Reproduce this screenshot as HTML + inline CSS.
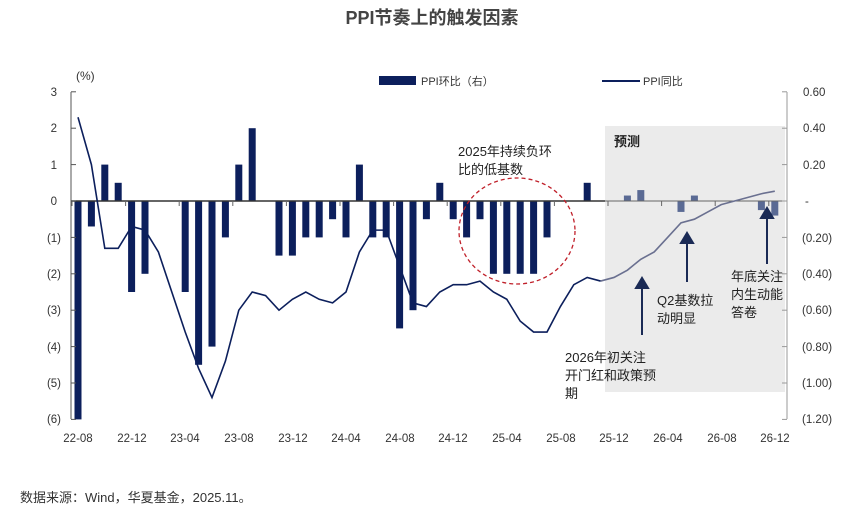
<!DOCTYPE html>
<html><head><meta charset="utf-8"><style>
html,body{margin:0;padding:0;background:#fff;}
svg{display:block;font-family:"Liberation Sans","Noto Sans CJK SC",sans-serif;}
</style></head><body>
<svg id="s" width="865" height="519" viewBox="0 0 865 519" xmlns="http://www.w3.org/2000/svg">
<rect x="605" y="126" width="180" height="266" fill="#ebebeb"/>
<text x="432" y="24" text-anchor="middle" font-size="18" font-weight="bold" fill="#444" font-family="Liberation Sans,'Noto Sans CJK SC',sans-serif">PPI节奏上的触发因素</text>
<rect x="379" y="76" width="37" height="9" fill="#0c1f5c"/>
<text x="421" y="85" font-size="11" fill="#333">PPI环比（右）</text>
<line x1="602" y1="81" x2="640" y2="81" stroke="#0c1f5c" stroke-width="2"/>
<text x="643" y="85" font-size="11" fill="#333">PPI同比</text>
<text x="76" y="80" font-size="12" fill="#333">(%)</text>
<g id="axes" stroke="#555" stroke-width="1" fill="none">
<line x1="71" y1="92" x2="71" y2="419"/>
<line x1="787" y1="92" x2="787" y2="419" stroke="#999"/>
</g>
<g id="g"></g>
<g font-size="11.5" fill="#333" text-anchor="end">
<text x="57" y="96">3</text><text x="57" y="132">2</text><text x="57" y="169">1</text><text x="57" y="205">0</text>
<text x="61" y="242">(1)</text><text x="61" y="278">(2)</text><text x="61" y="314">(3)</text><text x="61" y="351">(4)</text><text x="61" y="387">(5)</text><text x="61" y="423">(6)</text>
</g>
<g font-size="11.5" fill="#333" text-anchor="start">
<text x="803" y="96">0.60</text><text x="803" y="132">0.40</text><text x="803" y="169">0.20</text><text x="805" y="205">-</text>
<text x="802" y="242">(0.20)</text><text x="802" y="278">(0.40)</text><text x="802" y="314">(0.60)</text><text x="802" y="351">(0.80)</text><text x="802" y="387">(1.00)</text><text x="802" y="423">(1.20)</text>
</g>
<g font-size="11.5" fill="#333" text-anchor="middle">
<text x="78" y="442">22-08</text><text x="132" y="442">22-12</text><text x="185" y="442">23-04</text><text x="239" y="442">23-08</text><text x="293" y="442">23-12</text><text x="346" y="442">24-04</text><text x="400" y="442">24-08</text><text x="453" y="442">24-12</text><text x="507" y="442">25-04</text><text x="561" y="442">25-08</text><text x="614" y="442">25-12</text><text x="668" y="442">26-04</text><text x="722" y="442">26-08</text><text x="775" y="442">26-12</text>
</g>
<ellipse cx="517" cy="231" rx="58" ry="53" fill="none" stroke="#c0202a" stroke-width="1.3" stroke-dasharray="4,3"/>
<g font-size="13" fill="#222">
<text x="458" y="156">2025年持续负环</text><text x="458" y="174">比的低基数</text>
<text x="614" y="146" font-weight="bold" font-size="13">预测</text>
<text x="565" y="362">2026年初关注</text><text x="565" y="380">开门红和政策预</text><text x="565" y="398">期</text>
<text x="657" y="305">Q2基数拉</text><text x="657" y="323">动明显</text>
<text x="731" y="281">年底关注</text><text x="731" y="299">内生动能</text><text x="731" y="317">答卷</text>
</g>
<g stroke="#1a2a55" stroke-width="2" fill="#1a2a55">
<line x1="642" y1="335" x2="642" y2="286"/><polygon points="636,288 648,288 642,278"/>
<line x1="687" y1="282" x2="687" y2="241"/><polygon points="681,243 693,243 687,233"/>
<line x1="767" y1="264" x2="767" y2="216"/><polygon points="761,218 773,218 767,208"/>
</g>
<text x="20" y="502" font-size="13" fill="#333">数据来源：Wind，华夏基金，2025.11。</text>
</svg>
<script>
var g=document.getElementById('g'),NS='http://www.w3.org/2000/svg';
function X(i){return 78+i*13.4;}function Y(v){return 201-v*36.4;}
function el(t,a){var e=document.createElementNS(NS,t);for(var k in a)e.setAttribute(k,a[k]);g.appendChild(e);return e;}
var bars=[-6,-0.7,1,0.5,-2.5,-2,0,0,-2.5,-4.5,-4,-1,1,2,0,-1.5,-1.5,-1,-1,-0.5,-1,1,-1,-1,-3.5,-3,-0.5,0.5,-0.5,-1,-0.5,-2,-2,-2,-2,-1,0,0,0.5,0,0,0.15,0.3,0,0,-0.3,0.15,0,0,0,0,-0.25,-0.4];
bars.forEach(function(v,i){if(!v)return;var y=Y(Math.max(v,0)),h=Math.abs(v)*36.4;el('rect',{x:X(i)-3.5,y:y,width:7,height:h,fill:i>=40?'#5a6a94':'#0c1f5c'});});
el('line',{x1:71,y1:201,x2:605,y2:201,stroke:'#333','stroke-width':1.5});
el('line',{x1:605,y1:201,x2:787,y2:201,stroke:'#666','stroke-width':1});
for(var k=0;k<=13;k++){el('line',{x1:X(4*k)-6,y1:201,x2:X(4*k)-6,y2:206,stroke:'#666'});}
[3,2,1,0,-1,-2,-3,-4,-5,-6].forEach(function(v){el('line',{x1:71,y1:Y(v),x2:76,y2:Y(v),stroke:'#555'});el('line',{x1:782,y1:Y(v),x2:787,y2:Y(v),stroke:'#999'});});
var L=[2.3,1.0,-1.3,-1.3,-0.7,-0.8,-1.4,-2.5,-3.6,-4.6,-5.4,-4.4,-3.0,-2.5,-2.6,-3.0,-2.7,-2.5,-2.7,-2.8,-2.5,-1.4,-0.8,-0.8,-1.8,-2.8,-2.9,-2.5,-2.3,-2.3,-2.2,-2.5,-2.7,-3.3,-3.6,-3.6,-2.9,-2.3,-2.1,-2.2];
var F=[-2.2,-2.1,-1.9,-1.6,-1.4,-1.0,-0.6,-0.5,-0.3,-0.1,0.0,0.1,0.2,0.27];
el('polyline',{points:L.map(function(v,i){return X(i)+','+Y(v)}).join(' '),fill:'none',stroke:'#0c1f5c','stroke-width':1.6});
el('polyline',{points:F.map(function(v,i){return X(i+39)+','+Y(v)}).join(' '),fill:'none',stroke:'#6a7090','stroke-width':1.6});
</script>
</body></html>
